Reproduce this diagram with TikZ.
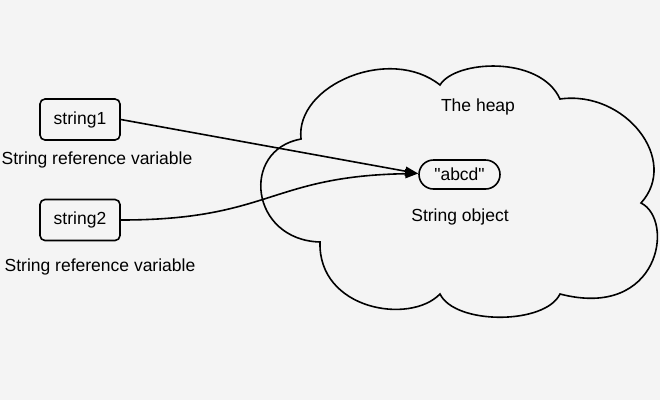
\documentclass[tikz,border=0pt]{standalone}
\usepackage{fontspec}
\setmainfont{Liberation Sans}
\newfontfamily\rawfont{Liberation Sans}[Ligatures=TeXOff]
\usetikzlibrary{arrows.meta,shapes.misc}
\definecolor{bg}{HTML}{F4F4F4}
\begin{document}
\begin{tikzpicture}[x=1pt,y=-1pt,
  lbl/.style={font=\fontsize{17.5}{20}\selectfont, inner sep=0pt},
  varbox/.style={draw, line width=1.6pt, rounded corners=5pt, minimum width=80pt, minimum height=41pt, inner sep=0pt, font=\fontsize{17.5}{20}\selectfont},
  objbox/.style={draw, line width=1.6pt, rounded rectangle, minimum width=81pt, minimum height=29pt, inner sep=0pt, font=\rawfont\fontsize{17.5}{20}\selectfont},
  ptr/.style={line width=1.6pt, -{Triangle[length=13pt,width=9pt]}}]
\fill[bg] (0,0) rectangle (660,400);
\useasboundingbox (0,0) rectangle (660,400);
% cloud
\draw[line width=1.6pt, fill=bg]
  (301,139) .. controls (295,85) and (390,45) .. (440,85)
  .. controls (455,60) and (540,55) .. (560,99)
  .. controls (625,90) and (680,160) .. (641,203)
  .. controls (675,220) and (660,320) .. (560,294)
  .. controls (545,325) and (455,325) .. (440,294)
  .. controls (410,325) and (318,310) .. (320,242)
  .. controls (250,240) and (240,150) .. cycle;
\node[lbl] (heap) at (478,107) {The heap};
\node[varbox] (s1) at (80,119.5) {string1};
\node[varbox] (s2) at (80,220) {string2};
\node[lbl] (l1) at (97,160) {String reference variable};
\node[lbl] (l2) at (100,267) {String reference variable};
\node[objbox] (obj) at (459.5,174.5) {"abcd"};
\node[lbl] (l3) at (460,217) {String object};
\draw[ptr] (s1.east) -- ([yshift=1pt]obj.west);
\draw[ptr] (s2.east) .. controls (270,220) and (270,176) .. ([yshift=1pt]obj.west);
\end{tikzpicture}
\end{document}
